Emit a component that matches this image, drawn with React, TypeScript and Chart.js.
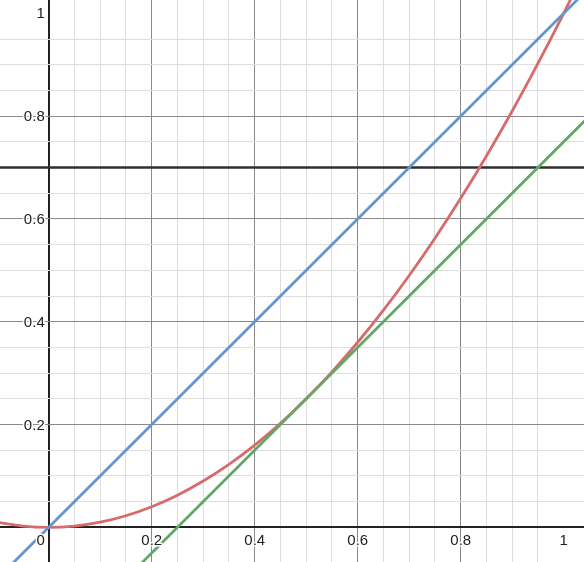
import React, { useEffect, useRef } from "react";
import { Chart, registerables } from "chart.js";

Chart.register(...registerables);

const lineX = [-0.2, 1.2];
const blueY = [-0.2, 1.2]; // y = x
const greenY = [-0.45, 0.95]; // tangent line at x = 0.5
const blackY = [0.7, 0.7]; // horizontal line

const redX = [-0.1, -0.05, 0, 0.05, 0.1, 0.15, 0.2, 0.25, 0.3, 0.35, 0.4, 0.45, 0.5, 0.55, 0.6, 0.65, 0.7, 0.75, 0.8, 0.85, 0.9, 0.95, 1.0, 1.05];
const redY = [0.01, 0.0025, 0, 0.0025, 0.01, 0.0225, 0.04, 0.0625, 0.09, 0.1225, 0.16, 0.2025, 0.25, 0.3025, 0.36, 0.4225, 0.49, 0.5625, 0.64, 0.7225, 0.81, 0.9025, 1.0, 1.1025];

const xTickLabels = ["0", "0.2", "0.4", "0.6", "0.8", "1"];
const xTickValues = [0, 0.2, 0.4, 0.6, 0.8, 1];
const yTickLabels = ["0.2", "0.4", "0.6", "0.8", "1"];
const yTickValues = [0.2, 0.4, 0.6, 0.8, 1];

const X_MIN = -0.0946;
const X_MAX = 1.0394;
const Y_MIN = -0.0675;
const Y_MAX = 1.0259;

const pts = (xs: number[], ys: number[]) => xs.map((x, i) => ({ x, y: ys[i] }));

const isMult = (v: number, step: number) => {
  const r = v / step;
  return Math.abs(r - Math.round(r)) < 1e-6;
};

const gridColor = (ctx: any) => {
  const v = ctx.tick ? ctx.tick.value : NaN;
  if (!isMult(v, 0.05)) return "rgba(0,0,0,0)";
  if (Math.abs(v) < 1e-9) return "#222222";
  if (isMult(v, 0.2)) return "#8a8a8a";
  return "#dddddd";
};
const gridWidth = (ctx: any) => {
  const v = ctx.tick ? ctx.tick.value : NaN;
  if (Math.abs(v) < 1e-9) return 2;
  return 1;
};

const labelPlugin = {
  id: "axisLabels",
  afterDatasetsDraw(chart: any) {
    const ctx = chart.ctx;
    const xs = chart.scales.x;
    const ys = chart.scales.y;
    const x0 = xs.getPixelForValue(0);
    const y0 = ys.getPixelForValue(0);
    ctx.save();
    ctx.font = "15px 'Liberation Sans', Arial, sans-serif";
    ctx.lineJoin = "round";
    ctx.strokeStyle = "#ffffff";
    ctx.lineWidth = 3;
    ctx.fillStyle = "#222222";
    ctx.textBaseline = "top";
    ctx.textAlign = "center";
    xTickValues.forEach((v, i) => {
      let px = xs.getPixelForValue(v);
      if (v === 0) px -= 8;
      const py = y0 + 6;
      ctx.strokeText(xTickLabels[i], px, py);
      ctx.fillText(xTickLabels[i], px, py);
    });
    ctx.textAlign = "right";
    ctx.textBaseline = "middle";
    yTickValues.forEach((v, i) => {
      const py = ys.getPixelForValue(v) + 1;
      const px = x0 - 4;
      ctx.strokeText(yTickLabels[i], px, py);
      ctx.fillText(yTickLabels[i], px, py);
    });
    ctx.restore();
  },
};

export default function App() {
  const ref = useRef<HTMLCanvasElement | null>(null);
  useEffect(() => {
    document.body.style.margin = "0";
    if (!ref.current) return;
    const chart = new Chart(ref.current, {
      type: "scatter",
      data: {
        datasets: [
          { data: pts(lineX, blueY), borderColor: "#6496cd", borderWidth: 2.8, showLine: true, pointRadius: 0, order: 1 },
          { data: pts(lineX, greenY), borderColor: "#62a767", borderWidth: 2.8, showLine: true, pointRadius: 0, order: 2 },
          { data: pts(redX, redY), borderColor: "#d76b6b", borderWidth: 2.8, showLine: true, pointRadius: 0, cubicInterpolationMode: "monotone", order: 3 },
          { data: pts(lineX, blackY), borderColor: "#2f2f2f", borderWidth: 2.5, showLine: true, pointRadius: 0, order: 4 },
        ],
      },
      options: {
        animation: false,
        responsive: false,
        maintainAspectRatio: false,
        layout: { padding: 0 },
        plugins: { legend: { display: false }, tooltip: { enabled: false } },
        scales: {
          x: {
            type: "linear",
            min: X_MIN,
            max: X_MAX,
            border: { display: false },
            ticks: { display: false, stepSize: 0.05 },
            grid: { color: gridColor, lineWidth: gridWidth, drawTicks: false },
          },
          y: {
            type: "linear",
            min: Y_MIN,
            max: Y_MAX,
            border: { display: false },
            ticks: { display: false, stepSize: 0.05 },
            grid: { color: gridColor, lineWidth: gridWidth, drawTicks: false },
          },
        },
      },
      plugins: [labelPlugin],
    });
    return () => chart.destroy();
  }, []);
  return (
    <div style={{ width: 584, height: 562, background: "#ffffff" }}>
      <canvas ref={ref} width={584} height={562} style={{ display: "block" }} />
    </div>
  );
}
